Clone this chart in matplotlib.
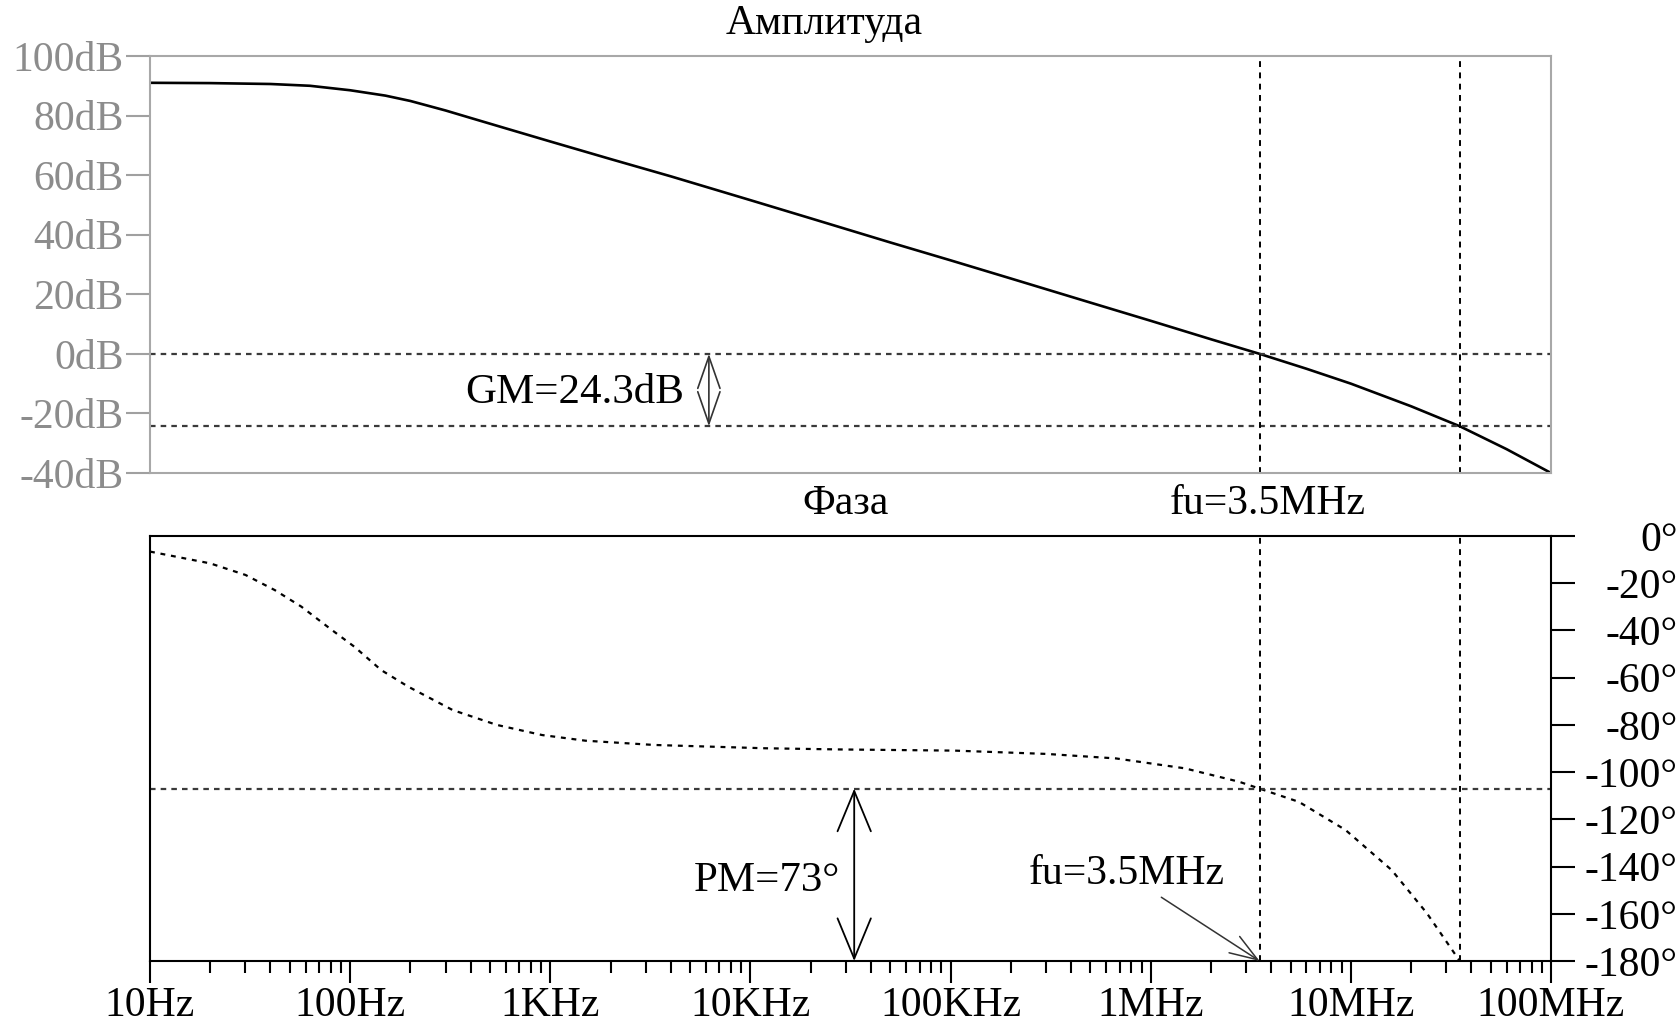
import numpy as np
import matplotlib.pyplot as plt
from matplotlib.ticker import NullFormatter

plt.rcParams['font.family'] = ['Liberation Serif', 'DejaVu Serif']

# magnitude of the open loop gain
mag_freq = [10, 20, 40, 63, 100, 150, 200, 300, 400, 600, 1000, 2000, 4000,
            10000, 20000, 50000, 100000, 200000, 500000, 1e6, 2e6, 3.5e6,
            6e6, 10e6, 20e6, 35e6, 60e6, 100e6]
mag_db = [91.0, 90.9, 90.6, 90.0, 88.5, 86.7, 84.9, 81.7, 79.2, 75.7, 71.3, 65.4,
          59.6, 51.6, 45.5, 37.4, 31.4, 25.3, 17.2, 11.1, 4.9, 0.0,
          -5.0, -10.0, -17.6, -24.3, -32.0, -40.0]

# phase
ph_freq = [10, 20, 30, 42, 57, 81, 105, 143, 195, 325, 540, 910, 1500, 3300,
           11800, 28000, 105000, 302000, 670000, 1.48e6, 2.77e6, 3.5e6, 5.5e6,
           9.4e6, 16e6, 24e6, 35e6]
ph_deg = [-6.6, -11.6, -16.5, -22.9, -29.9, -39.8, -46.9, -56.8, -63.8, -73.7,
          -80.0, -84.3, -86.7, -88.5, -89.9, -90.4, -90.9, -92.3, -94.2, -98.4,
          -104.1, -107.0, -112.6, -124.5, -141.5, -159.8, -180.0]

fu = 3.5e6        # unity gain frequency
f180 = 35e6       # phase = -180
gm = 24.3
pm = 73
f_gm_arrow = 6.2e3
f_pm_arrow = 33e3

x_ticks = [1e1, 1e2, 1e3, 1e4, 1e5, 1e6, 1e7, 1e8]
x_labels = ['10Hz', '100Hz', '1KHz', '10KHz', '100KHz', '1MHz', '10MHz', '100MHz']
db_ticks = [100, 80, 60, 40, 20, 0, -20, -40]
deg_ticks = [0, -20, -40, -60, -80, -100, -120, -140, -160, -180]

FS = 30
W, H = 1681, 1027


def draw_magnitude(fig):
    ax = fig.add_axes([150 / W, 1 - 473 / H, 1401 / W, 417 / H])
    ax.set_xscale('log')
    ax.plot(mag_freq, mag_db, color='black', lw=1.9)
    ax.set_xlim(10, 1e8)
    ax.set_ylim(-40, 100)
    ax.set_yticks(db_ticks, [f'{v}dB' for v in db_ticks])
    ax.tick_params(axis='y', length=17, width=1.5, color='#a0a0a0', pad=2,
                   labelsize=FS, labelcolor='#8c8c8c')
    ax.tick_params(axis='x', which='both', bottom=False, labelbottom=False)
    for s in ax.spines.values():
        s.set_color('#a8a8a8')
        s.set_linewidth(1.5)

    ax.axhline(0, color='#3a3a3a', lw=1.6, dashes=(2.5, 2.3))
    ax.axhline(-gm, color='#3a3a3a', lw=1.6, dashes=(2.5, 2.3))
    ax.axvline(fu, color='black', lw=1.4, dashes=(3, 2.8))
    ax.axvline(f180, color='black', lw=1.4, dashes=(3, 2.8))

    ax.annotate('', xy=(f_gm_arrow, 0), xytext=(f_gm_arrow, -gm),
                arrowprops=dict(arrowstyle='<->, head_length=1.15, head_width=0.4',
                                color='#333333', lw=1.2, mutation_scale=20,
                                shrinkA=0, shrinkB=0))
    ax.text(f_gm_arrow / 1.33, -13, f'GM={gm}dB', fontsize=FS + 1,
            ha='right', va='center')
    return ax


def draw_phase(fig):
    ax = fig.add_axes([150 / W, 1 - 961 / H, 1401 / W, 425 / H])
    ax.set_xscale('log')
    ax.plot(ph_freq, ph_deg, color='black', lw=1.6, dashes=(2.2, 2.6))
    ax.set_xlim(10, 1e8)
    ax.set_ylim(-180, 0)

    ax.set_xticks(x_ticks, x_labels)
    minor = [m * 10.0 ** k for k in range(1, 8) for m in range(2, 10)]
    ax.set_xticks(minor, minor=True)
    ax.xaxis.set_minor_formatter(NullFormatter())
    ax.tick_params(axis='x', which='major', direction='out', length=16, width=1.5,
                   labelsize=FS, pad=2)
    ax.tick_params(axis='x', which='minor', direction='out', length=8.5, width=1.5)

    ax.yaxis.tick_right()
    ax.set_yticks(deg_ticks, [f'{v}°' for v in deg_ticks])
    ax.tick_params(axis='y', length=17, width=1.5, labelsize=FS, pad=74)
    for lab in ax.get_yticklabels():
        lab.set_horizontalalignment('right')
    for s in ax.spines.values():
        s.set_linewidth(1.5)

    ax.axhline(-180 + pm, color='#3a3a3a', lw=1.6, dashes=(2.5, 2.3))
    ax.axvline(fu, color='black', lw=1.4, dashes=(3, 2.8))
    ax.axvline(f180, color='black', lw=1.4, dashes=(3, 2.8))

    ax.annotate('', xy=(f_pm_arrow, -180 + pm), xytext=(f_pm_arrow, -180),
                arrowprops=dict(arrowstyle='<->, head_length=1.45, head_width=0.6',
                                color='black', lw=1.3, mutation_scale=20,
                                shrinkA=0, shrinkB=0))
    ax.text(f_pm_arrow / 1.18, -146, f'PM={pm}°', fontsize=FS + 1,
            ha='right', va='center')

    ax.annotate('', xy=(fu, -180), xytext=(1.13e6, -153),
                arrowprops=dict(arrowstyle='->, head_length=1.0, head_width=0.35',
                                color='#333333', lw=1.1, mutation_scale=20,
                                shrinkA=0, shrinkB=0))
    ax.text(7.6e5, -143, 'fu=3.5MHz', fontsize=FS, ha='center', va='center')
    return ax


def main():
    fig = plt.figure(figsize=(W / 100, H / 100), dpi=100)
    draw_magnitude(fig)
    draw_phase(fig)
    fig.text(824 / W, 1 - 24 / H, 'Амплитуда', fontsize=FS, ha='center', va='center')
    fig.text(846 / W, 1 - 504 / H, 'Фаза', fontsize=FS, ha='center', va='center')
    fig.text(1268 / W, 1 - 504 / H, 'fu=3.5MHz', fontsize=FS, ha='center', va='center')
    fig.savefig('out.png', dpi=100)


if __name__ == "__main__":
    main()
